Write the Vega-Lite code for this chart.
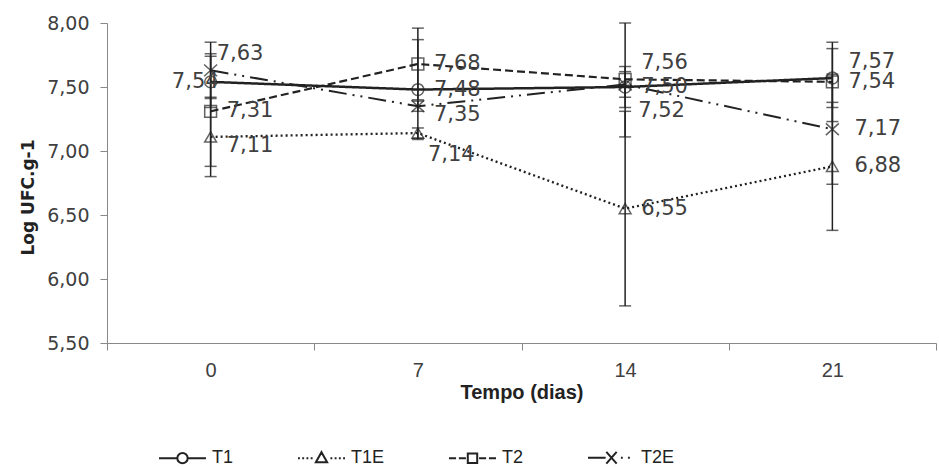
{
  "$schema": "https://vega.github.io/schema/vega-lite/v6.json",
  "autosize": {"type": "none"},
  "width": 829,
  "height": 320,
  "padding": {"left": 107, "top": 23, "right": 3, "bottom": 124},
  "background": "white",
  "config": {
    "view": {"stroke": null},
    "locale": {"number": {"decimal": ",", "thousands": ".", "grouping": [3], "currency": ["", ""]}},
    "text": {"font": "DejaVu Sans", "fontSize": 21, "color": "#404040", "baseline": "middle", "align": "left"}
  },
  "data": {
    "values": [
      {"day": 0, "series": "T1", "value": 7.54, "lo": 7.34, "hi": 7.74},
      {"day": 7, "series": "T1", "value": 7.48, "lo": 7.09, "hi": 7.87},
      {"day": 14, "series": "T1", "value": 7.50, "lo": 7.34, "hi": 7.66},
      {"day": 21, "series": "T1", "value": 7.57, "lo": 7.34, "hi": 7.80},
      {"day": 0, "series": "T1E", "value": 7.11, "lo": 6.80, "hi": 7.42},
      {"day": 7, "series": "T1E", "value": 7.14, "lo": 7.10, "hi": 7.18},
      {"day": 14, "series": "T1E", "value": 6.55, "lo": 5.79, "hi": 7.31},
      {"day": 21, "series": "T1E", "value": 6.88, "lo": 6.38, "hi": 7.38},
      {"day": 0, "series": "T2", "value": 7.31, "lo": 6.88, "hi": 7.76},
      {"day": 7, "series": "T2", "value": 7.68, "lo": 7.40, "hi": 7.96},
      {"day": 14, "series": "T2", "value": 7.56, "lo": 7.11, "hi": 8.00},
      {"day": 21, "series": "T2", "value": 7.54, "lo": 7.23, "hi": 7.85},
      {"day": 0, "series": "T2E", "value": 7.63, "lo": 7.41, "hi": 7.85},
      {"day": 7, "series": "T2E", "value": 7.35, "lo": 7.31, "hi": 7.39},
      {"day": 14, "series": "T2E", "value": 7.52, "lo": 7.42, "hi": 7.62},
      {"day": 21, "series": "T2E", "value": 7.17, "lo": 6.74, "hi": 7.60}
    ]
  },
  "encoding": {
    "x": {
      "field": "day", "type": "ordinal", "sort": [0, 7, 14, 21],
      "scale": {"type": "band", "paddingInner": 0, "paddingOuter": 0},
      "axis": {
        "title": "Tempo (dias)", "labelAngle": 0, "tickBand": "extent", "tickSize": 7,
        "tickColor": "#888888", "domainColor": "#888888", "grid": false,
        "labelFont": "Liberation Sans", "labelFontSize": 20, "labelColor": "#404040", "labelPadding": 10,
        "titleFont": "Liberation Sans", "titleFontWeight": "bold", "titleFontSize": 20, "titleColor": "#222222", "titlePadding": 2
      }
    }
  },
  "layer": [
    {
      "mark": {"type": "errorbar", "color": "#222222", "ticks": {"size": 12, "thickness": 1.5}, "rule": {"strokeWidth": 1.5}},
      "encoding": {
        "y": {"field": "lo", "type": "quantitative", "scale": {"domain": [5.5, 8], "nice": false, "zero": false},
          "axis": {
            "title": "Log UFC.g-1", "values": [5.5, 6, 6.5, 7, 7.5, 8], "format": ".2f", "grid": false,
            "tickSize": 7, "tickColor": "#888888", "domainColor": "#888888",
            "labelFont": "DejaVu Sans", "labelFontSize": 19, "labelColor": "#404040", "labelPadding": 11,
            "titleFont": "DejaVu Sans", "titleFontWeight": "bold", "titleFontSize": 17, "titleColor": "#222222", "titlePadding": 9, "titleY": 174
          }},
        "y2": {"field": "hi"}
      }
    },
    {
      "mark": {"type": "line", "color": "#222222"},
      "encoding": {
        "y": {"field": "value", "type": "quantitative", "scale": {"domain": [5.5, 8], "nice": false, "zero": false},
          "axis": {
            "title": "Log UFC.g-1", "values": [5.5, 6, 6.5, 7, 7.5, 8], "format": ".2f", "grid": false,
            "tickSize": 7, "tickColor": "#888888", "domainColor": "#888888",
            "labelFont": "DejaVu Sans", "labelFontSize": 19, "labelColor": "#404040", "labelPadding": 11,
            "titleFont": "DejaVu Sans", "titleFontWeight": "bold", "titleFontSize": 17, "titleColor": "#222222", "titlePadding": 9, "titleY": 174
          }},
        "strokeDash": {"field": "series", "type": "nominal", "scale": {"domain": ["T1", "T1E", "T2", "T2E"], "range": [[1, 0], [2, 3], [8, 4], [18, 6, 2, 6, 2, 6]]}, "legend": null},
        "strokeWidth": {"field": "series", "type": "nominal", "scale": {"domain": ["T1", "T1E", "T2", "T2E"], "range": [2.5, 2, 2.2, 2.2]}, "legend": null}
      }
    },
    {
      "mark": {"type": "point", "filled": false, "size": 140, "strokeWidth": 1.5, "color": "#222222"},
      "encoding": {
        "y": {"field": "value", "type": "quantitative"},
        "shape": {"field": "series", "type": "nominal", "scale": {"domain": ["T1", "T1E", "T2", "T2E"], "range": ["circle", "triangle-up", "square", "M-1.1,-1L1.1,1M-1.1,1L1.1,-1"]}, "legend": null}
      }
    },
    {
      "transform": [{"filter": "(datum.series=='T1'&&datum.day==7)||(datum.series=='T1'&&datum.day==14)||(datum.series=='T2'&&datum.day==0)||(datum.series=='T2'&&datum.day==7)||(datum.series=='T2'&&datum.day==21)||(datum.series=='T1E'&&datum.day==14)"}],
      "mark": {"type": "text", "dx": 16, "dy": 0},
      "encoding": {"y": {"field": "value", "type": "quantitative"}, "text": {"field": "value", "type": "quantitative", "format": ".2f"}}
    },
    {
      "transform": [{"filter": "(datum.series=='T1E'&&datum.day==21)||(datum.series=='T2E'&&datum.day==21)"}],
      "mark": {"type": "text", "dx": 22, "dy": 0},
      "encoding": {"y": {"field": "value", "type": "quantitative"}, "text": {"field": "value", "type": "quantitative", "format": ".2f"}}
    },
    {
      "transform": [{"filter": "(datum.series=='T1'&&datum.day==21)||(datum.series=='T2'&&datum.day==14)"}],
      "mark": {"type": "text", "dx": 16, "dy": -16},
      "encoding": {"y": {"field": "value", "type": "quantitative"}, "text": {"field": "value", "type": "quantitative", "format": ".2f"}}
    },
    {
      "transform": [{"filter": "datum.series=='T2E'&&datum.day==0"}],
      "mark": {"type": "text", "dx": 6, "dy": -16},
      "encoding": {"y": {"field": "value", "type": "quantitative"}, "text": {"field": "value", "type": "quantitative", "format": ".2f"}}
    },
    {
      "transform": [{"filter": "(datum.series=='T1E'&&datum.day==0)||(datum.series=='T2E'&&datum.day==7)"}],
      "mark": {"type": "text", "dx": 16, "dy": 9},
      "encoding": {"y": {"field": "value", "type": "quantitative"}, "text": {"field": "value", "type": "quantitative", "format": ".2f"}}
    },
    {
      "transform": [{"filter": "datum.series=='T1E'&&datum.day==7"}],
      "mark": {"type": "text", "dx": 10, "dy": 22},
      "encoding": {"y": {"field": "value", "type": "quantitative"}, "text": {"field": "value", "type": "quantitative", "format": ".2f"}}
    },
    {
      "transform": [{"filter": "datum.series=='T2E'&&datum.day==14"}],
      "mark": {"type": "text", "dx": 13, "dy": 27},
      "encoding": {"y": {"field": "value", "type": "quantitative"}, "text": {"field": "value", "type": "quantitative", "format": ".2f"}}
    },
    {
      "transform": [{"filter": "datum.series=='T1'&&datum.day==0"}],
      "mark": {"type": "text", "align": "right", "dx": 8, "dy": 0},
      "encoding": {"y": {"field": "value", "type": "quantitative"}, "text": {"field": "value", "type": "quantitative", "format": ".2f"}}
    },
    {
      "mark": {"type": "point", "opacity": 0, "filled": false},
      "encoding": {
        "y": {"field": "value", "type": "quantitative"},
        "shape": {
          "field": "series", "type": "nominal",
          "scale": {"domain": ["T1", "T1E", "T2", "T2E"], "range": [
            "M-1,0H-0.22M0.22,0H1M-0.22,0A0.22,0.22,0,1,1,0.22,0A0.22,0.22,0,1,1,-0.22,0",
            "M-1,0h0.08M-0.82,0h0.08M-0.64,0h0.08M-0.46,0h0.08M0.38,0h0.08M0.56,0h0.08M0.74,0h0.08M0.92,0h0.08M0,-0.26L0.24,0.17L-0.24,0.17Z",
            "M-1,0h0.3M-0.58,0h0.3M0.28,0h0.3M0.7,0h0.3M-0.2,-0.2H0.2V0.2H-0.2Z",
            "M-1,0H-0.25M0.4,0h0.08M0.7,0h0.08M-0.22,-0.25L0.22,0.25M-0.22,0.25L0.22,-0.25"
          ]},
          "legend": {
            "title": null, "orient": "none", "legendX": 51, "legendY": 410, "direction": "horizontal", "columns": 4,
            "padding": 0, "symbolSize": 2209, "symbolStrokeWidth": 2, "symbolStrokeColor": "#222222", "symbolFillColor": "white",
            "symbolOpacity": 1, "symbolOffset": 0, "labelOffset": 5, "columnPadding": 60,
            "labelFont": "Liberation Sans", "labelFontSize": 18, "labelColor": "#222222"
          }
        }
      }
    }
  ],
  "resolve": {"scale": {"shape": "independent"}}
}
